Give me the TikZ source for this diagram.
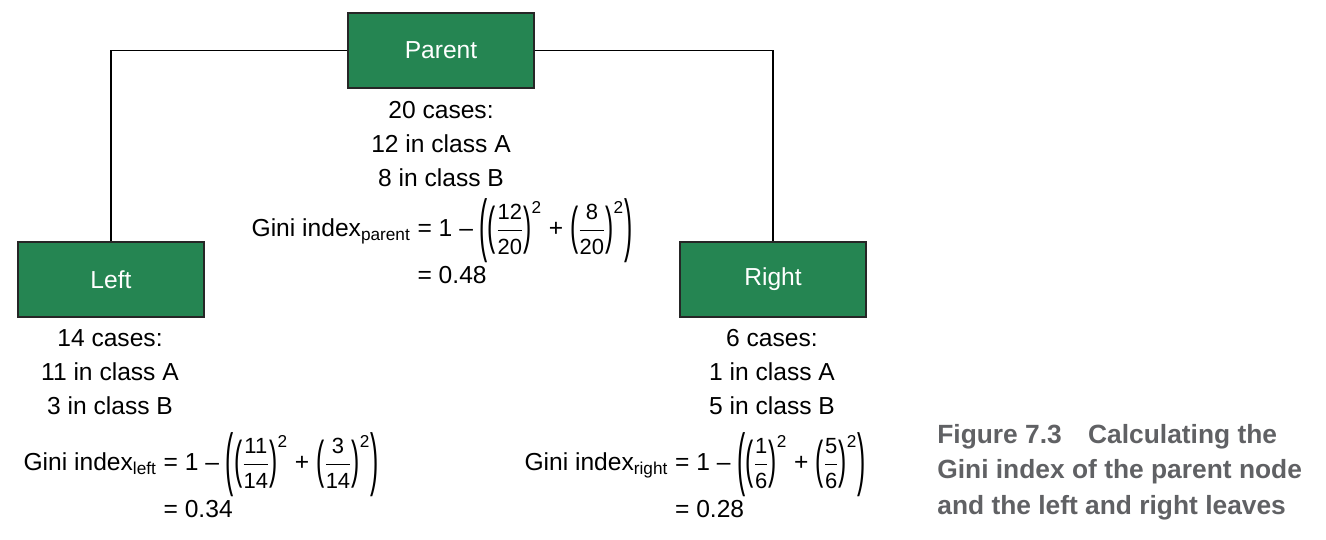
\documentclass[tikz,border=0pt]{standalone}
\usepackage{amsmath}
\usepackage{graphicx}
\usepackage{fontspec}
\setmainfont{Liberation Sans}
\usepackage{tikz}

\definecolor{leafgreen}{RGB}{37,133,82}
\definecolor{capgray}{RGB}{96,97,100}

\newcommand{\fsz}{\fontsize{12.5}{12.5}\selectfont}
\newcommand{\pl}[1]{\mathopen{\vcenter{\hbox{\scalebox{1}[#1]{(}}}}}
\newcommand{\pr}[1]{\mathclose{\vcenter{\hbox{\scalebox{1}[#1]{)}}}}}
\newcommand{\gsq}[2]{\pl{2.1}\mkern1mu\dfrac{\text{\fsz #1}}{\text{\fsz #2}}\mkern1mu\pr{2.1}^{\text{2}}}
\newcommand{\gini}[4]{\setlength{\nulldelimiterspace}{0pt}$\begin{aligned}\text{Gini index}_{\text{#1}} &\text{ = 1 – }\pl{2.8}#2\text{ + }#3\pr{2.8}\\[-3pt] &\text{ = #4}\end{aligned}$}

\tikzset{
  treebox/.style={draw=black!85, line width=0.9pt, fill=leafgreen, text=white,
    minimum width=3.72cm, minimum height=1.5cm, font=\fontsize{14}{16}\selectfont},
  info/.style={align=center, inner sep=0pt, anchor=north, font=\fontsize{14}{19.3}\selectfont},
  formula/.style={inner sep=0pt, anchor=north, font=\fontsize{14}{16}\selectfont}
}

\begin{document}
\begin{tikzpicture}[x=0.02cm, y=-0.02cm]
\useasboundingbox (0,0) rectangle (1326,540);

\node[treebox] (parent) at (441, 50.5) {Parent};
\node[treebox] (left) at (111, 279.5) {Left};
\node[treebox] (right) at (773, 279.5) {Right};

\draw[line width=0.8pt] (parent.west) -| (left.north);
\draw[line width=0.8pt] (parent.east) -| (right.north);

\node[info] (pinfo) at (441, 101) {20 cases:\\12 in class A\\8 in class B};
\node[info] (linfo) at (110, 329) {14 cases:\\11 in class A\\3 in class B};
\node[info] (rinfo) at (772, 329) {6 cases:\\1 in class A\\5 in class B};

\node[formula] (pgini) at (442, 198) {\gini{parent}{\gsq{12}{20}}{\gsq{8}{20}}{0.48}};
\node[formula] (lgini) at (201, 432) {\gini{left}{\gsq{11}{14}}{\gsq{3}{14}}{0.34}};
\node[formula] (rgini) at (695, 432) {\gini{right}{\gsq{1}{6}}{\gsq{5}{6}}{0.28}};

\node[anchor=north west, inner sep=0pt, align=left, text=capgray,
  font=\fontsize{15}{20.1}\selectfont\bfseries] (caption) at (937, 424)
  {Figure 7.3\quad Calculating the\\Gini index of the parent node\\and the left and right leaves};
\end{tikzpicture}
\end{document}
